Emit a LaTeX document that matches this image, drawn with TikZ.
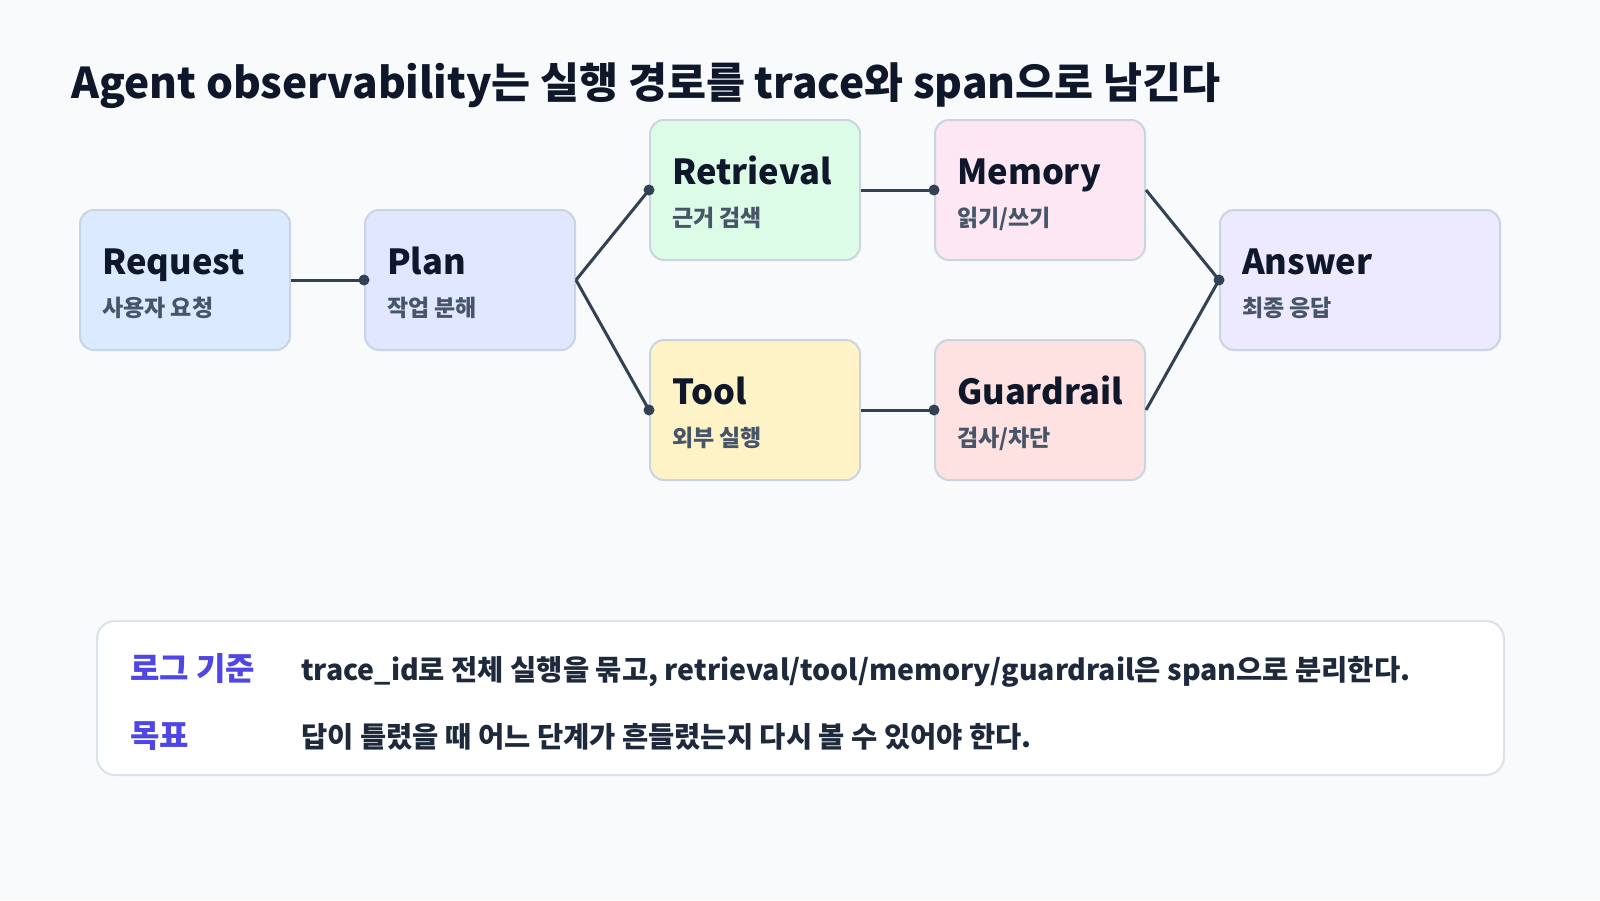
\documentclass[tikz,border=0pt]{standalone}
\usepackage{fontspec}
\setmainfont{Noto Sans CJK KR}
\usetikzlibrary{positioning}
\definecolor{pagebg}{HTML}{F8FAFC}
\definecolor{boxline}{HTML}{CBD5E1}
\definecolor{wire}{HTML}{334155}
\definecolor{ink}{HTML}{0F172A}
\definecolor{subink}{HTML}{475569}
\definecolor{bodyink}{HTML}{1E293B}
\definecolor{keyink}{HTML}{4F46E5}
\definecolor{reqfill}{HTML}{DBEAFE}
\definecolor{planfill}{HTML}{E0E7FF}
\definecolor{retrfill}{HTML}{DCFCE7}
\definecolor{memfill}{HTML}{FCE7F3}
\definecolor{toolfill}{HTML}{FEF3C7}
\definecolor{guardfill}{HTML}{FEE2E2}
\definecolor{ansfill}{HTML}{EDE9FE}
\definecolor{panelline}{HTML}{DBE2EA}
\tikzset{
  stage/.style={draw=boxline,line width=2pt,rounded corners=14pt,minimum width=210pt,minimum height=140pt,inner sep=0pt},
  head/.style={anchor=base west,inner sep=0pt,text=ink,font=\bfseries\fontsize{34.5}{40}\selectfont},
  sub/.style={anchor=base west,inner sep=0pt,text=subink,font=\bfseries\fontsize{23}{26}\selectfont},
  link/.style={draw=wire,line width=3pt},
  keylbl/.style={anchor=base west,inner sep=0pt,text=keyink,font=\bfseries\fontsize{32}{36}\selectfont},
  bodytxt/.style={anchor=base west,inner sep=0pt,text=bodyink,font=\bfseries\fontsize{28.5}{32}\selectfont},
}
\newcommand{\dotat}[1]{\fill[wire] (#1) circle (5.5pt);}
\begin{document}
\begin{tikzpicture}[x=1pt,y=-1pt]
\fill[pagebg] (0,0) rectangle (1600,900);
\useasboundingbox (0,0) rectangle (1600,900);
% title
\node[anchor=base west,inner sep=0pt,text=ink,font=\bfseries\fontsize{42.4}{48}\selectfont] (title) at (71,98) {Agent observability는 실행 경로를 trace와 span으로 남긴다};
% stages
\node[stage,fill=reqfill] (req) at (185,280) {};
\node[stage,fill=planfill] (plan) at (470,280) {};
\node[stage,fill=retrfill] (retr) at (755,190) {};
\node[stage,fill=toolfill] (tool) at (755,410) {};
\node[stage,fill=memfill] (mem) at (1040,190) {};
\node[stage,fill=guardfill] (guard) at (1040,410) {};
\node[stage,fill=ansfill,minimum width=280pt] (ans) at (1360,280) {};
\foreach \n/\h/\s in {req/Request/사용자 요청,plan/Plan/작업 분해,retr/Retrieval/근거 검색,tool/Tool/외부 실행,mem/Memory/{읽기/쓰기},guard/Guardrail/{검사/차단},ans/Answer/최종 응답}{
  \node[head] (\n-head) at ([xshift=23pt,yshift=-65pt]\n.north west) {\h};
  \node[sub] (\n-sub) at ([xshift=23pt,yshift=-107pt]\n.north west) {\s};
}
% connectors
\draw[link] (req.east) -- (plan.west);
\draw[link] (plan.east) -- (retr.west);
\draw[link] (plan.east) -- (tool.west);
\draw[link] (retr.east) -- (mem.west);
\draw[link] (tool.east) -- (guard.west);
\draw[link] (mem.east) -- (ans.west);
\draw[link] (guard.east) -- (ans.west);
\foreach \n in {plan,retr,tool,mem,guard,ans}{\dotat{\n.west}}
% notes
\node[draw=panelline,fill=white,line width=2pt,rounded corners=18pt,minimum width=1407pt,minimum height=154pt] (notes) at (800.5,698) {};
\node[keylbl] (key1) at (130,680) {로그 기준};
\node[keylbl] (key2) at (130,747) {목표};
\node[bodytxt] (body1) at (301,680) {trace\_id로 전체 실행을 묶고, retrieval/tool/memory/guardrail은 span으로 분리한다.};
\node[bodytxt] (body2) at (301,747) {답이 틀렸을 때 어느 단계가 흔들렸는지 다시 볼 수 있어야 한다.};
\end{tikzpicture}
\end{document}
